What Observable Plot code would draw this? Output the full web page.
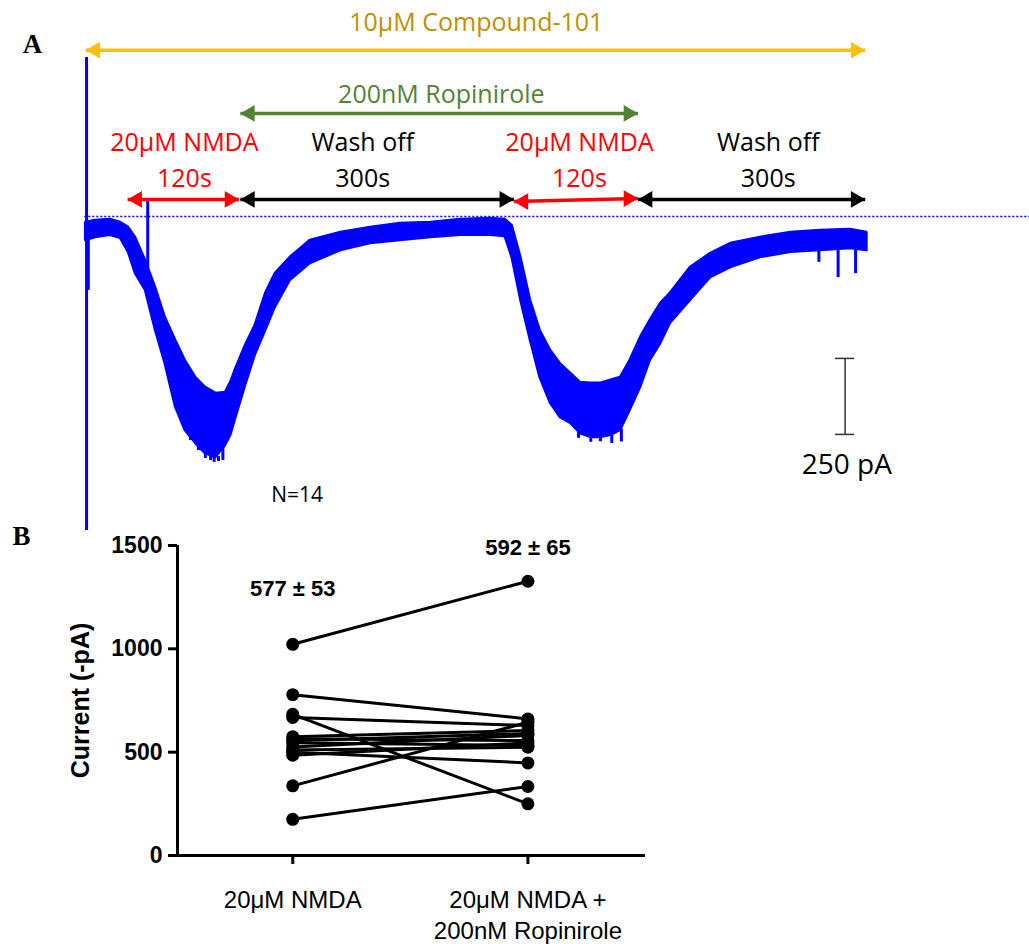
<!DOCTYPE html>
<html><head><meta charset="utf-8">
<script src="https://cdn.jsdelivr.net/npm/d3@7"></script>
<script src="https://cdn.jsdelivr.net/npm/@observablehq/plot@0.6"></script>
<style>
body{margin:0;background:#fff;}
#wrap{position:relative;width:1029px;height:944px;overflow:hidden;}
#wrap svg{position:absolute;left:0;}
</style></head><body><div id="wrap"></div>
<script>
// ---------- Panel A: whole-cell current trace (time in s from first NMDA onset, current in pA) ----------
const traceT  = [-49,-38,-21,-9,0,8,19.5,31,42,54,65,77,88,100,111,117,122,134,145,157,168,185,208,243,277,311,346,380,414,431,439,449,460,471,483,494,506,517,529,540,552,563,574,586,597,609,620,643,666,689,723,758,792,826,845];
const traceHi = [-20,-13,-10,-20,-36,-69,-145,-234,-332,-408,-474,-530,-562,-582,-579,-546,-507,-424,-359,-253,-188,-135,-79,-53,-36,-23,-20,-10,-7,-10,-30,-135,-276,-375,-441,-484,-516,-546,-549,-549,-539,-530,-474,-398,-342,-286,-253,-168,-122,-89,-69,-53,-46,-43,-53];
const traceLo = [-79,-69,-62,-72,-118,-188,-243,-375,-484,-628,-704,-747,-780,-793,-753,-720,-671,-556,-457,-375,-299,-211,-155,-112,-89,-79,-69,-62,-62,-66,-135,-276,-408,-530,-615,-661,-681,-714,-727,-727,-720,-704,-638,-562,-474,-418,-352,-276,-201,-168,-135,-118,-112,-105,-112];
// transients / noise spikes
const spikeT  = [-48,-46,22,71,80,88,94,98,103,108,515,529,540,553,564,790,812,832];
const spikeHi = [523,-20,53,-700,-740,-770,-780,-790,-790,-750,-700,-720,-720,-715,-700,-60,-60,-60];
const spikeLo = [-1033,-243,-188,-737,-770,-796,-803,-809,-806,-803,-730,-743,-741,-747,-742,-151,-201,-188];

// application bars (start/end in s)
const barStart = [-49, 128, -1, 128, 441, 583];
const barEnd   = [843, 583, 126.5, 441, 583, 843];
const barColor = ["#FFC000", "#548235", "#FF0000", "#000000", "#FF0000", "#000000"];
// bar labels
const barText  = ["10μM Compound-101", "200nM Ropinirole", "20μM NMDA", "120s", "Wash off", "300s", "20μM NMDA", "120s", "Wash off", "300s"];
const barTextT = [398, 358, 64, 64, 268, 268, 516, 516, 732, 732];
const barTextColor = ["#BF9000", "#548235", "#FF0000", "#FF0000", "#000000", "#000000", "#FF0000", "#FF0000", "#000000", "#000000"];
const scaleBarPA = 250;
const nCells = "N=14";

// ---------- Panel B: paired peak currents ----------
const conditions = ["20μM NMDA", "20μM NMDA +\n200nM Ropinirole"];
const nmda    = [1022, 778, 683, 668, 575, 565, 555, 545, 525, 510, 500, 485, 337, 175];
const nmdaRop = [1327, 661, 250, 629, 605, 556, 590, 532, 581, 524, 448, 545, 645, 334];
const meanLabels = ["577 ± 53", "592 ± 65"];
const yTicks = [0, 500, 1000, 1500];

// ---------- build tables ----------
const trace = traceT.map((t, i) => ({t, hi: traceHi[i], lo: traceLo[i]}));
const spikes = spikeT.map((t, i) => ({t, hi: spikeHi[i], lo: spikeLo[i]}));
// vertical placement of annotation rows (pA units on the trace axis)
const levelCompound = 547, levelRop = 339, levelPhase = 56;
const barLevel = [levelCompound, levelRop, levelPhase, levelPhase, levelPhase - 7, levelPhase];
const barLevelEnd = [levelCompound, levelRop, levelPhase, levelPhase, levelPhase + 3, levelPhase];
const bars = barStart.map((s, i) => ({x1: s, x2: barEnd[i], y1: barLevel[i], y2: barLevelEnd[i], c: barColor[i]}));
const textLevel = [638, 398, 243, 122, 243, 122, 243, 122, 243, 122];
const labelsA = barText.map((s, i) => ({text: s, t: barTextT[i], y: textLevel[i], c: barTextColor[i]}));
const sbT = 820, sbTop = -467;

const fontA = "'Open Sans', sans-serif";
const serif = "'Liberation Serif', 'Times New Roman', serif";
const wrap = document.getElementById("wrap");

const plotA = Plot.plot({
  width: 1029, height: 540,
  marginLeft: 84.3, marginRight: 0, marginTop: 0, marginBottom: 0,
  x: {domain: [-50, 1031], axis: null},
  y: {domain: [-1066, 710.5], axis: null},
  color: {type: "identity"},
  style: {background: "transparent", overflow: "visible", fontFamily: fontA},
  marks: [
    Plot.ruleY([0], {stroke: "#0000FF", strokeWidth: 1.5, strokeDasharray: "2,2"}),
    Plot.areaY(trace, {x: "t", y1: "lo", y2: "hi", fill: "#0000FF", stroke: "#0000FF", strokeWidth: 2.5}),
    Plot.ruleX(spikes, {x: "t", y1: "lo", y2: "hi", stroke: "#0000FF", strokeWidth: 3}),
    Plot.link(bars, {x1: "x1", x2: "x2", y1: "y1", y2: "y2", stroke: "c", strokeWidth: 3.5}),
    Plot.dot(bars, {x: "x1", y: "y1", fill: "c", symbol: "triangle", r: 6.2, rotate: -90, dx: 9.5}),
    Plot.dot(bars, {x: "x2", y: "y2", fill: "c", symbol: "triangle", r: 6.2, rotate: 90, dx: -9.5}),
    Plot.text(labelsA, {x: "t", y: "y", text: "text", fill: "c", fontSize: 25, fontFamily: fontA}),
    // scale bar
    Plot.ruleX([sbT], {y1: sbTop, y2: sbTop - scaleBarPA, stroke: "#333", strokeWidth: 1.5}),
    Plot.ruleY([sbTop, sbTop - scaleBarPA], {x1: sbT - 11, x2: sbT + 11, stroke: "#333", strokeWidth: 1.5}),
    Plot.text([`${scaleBarPA} pA`], {x: sbT + 2, y: sbTop - scaleBarPA - 102, fontSize: 28, fill: "#000", fontFamily: fontA}),
    Plot.text([nCells], {x: 193, y: -918, fontSize: 21, fill: "#000", fontFamily: fontA}),
    Plot.text(["A"], {frameAnchor: "top-left", dx: -62, dy: 33, fontSize: 27, fontWeight: "bold", fontFamily: serif, fill: "#000"})
  ]
});
plotA.style.top = "0px";
wrap.appendChild(plotA);

// ---------- Panel B ----------
const rows = [];
nmda.forEach((v, i) => { rows.push({id: i, pos: 0, v}); rows.push({id: i, pos: 1, v: nmdaRop[i]}); });
const xDomain = [-0.49, 1.5];
const fontB = "'Liberation Sans', Arial, sans-serif";
const plotB = Plot.plot({
  width: 1029, height: 444,
  marginLeft: 177, marginRight: 384, marginTop: 45, marginBottom: 89,
  x: {domain: xDomain, axis: null},
  y: {domain: [0, 1500], axis: null},
  style: {background: "transparent", overflow: "visible", fontFamily: fontB},
  marks: [
    Plot.ruleX([xDomain[0]], {y1: 0, y2: 1500, stroke: "#000", strokeWidth: 3}),
    Plot.ruleY([0], {stroke: "#000", strokeWidth: 3}),
    Plot.axisY({ticks: yTicks, tickFormat: d => String(d), tickSize: 9, tickPadding: 6, strokeWidth: 3, fontSize: 23, fontWeight: "bold", label: null, fill: "#000"}),
    Plot.axisX({ticks: [0, 1], tickSize: 9, strokeWidth: 3, tickFormat: () => "", label: null}),
    Plot.text([0, 1], {x: d => d, y: 0, text: d => conditions[d], dy: 30, lineAnchor: "top", lineHeight: 1.3, fontSize: 24, fill: "#000", textAnchor: "middle"}),
    Plot.text(["Current (-pA)"], {frameAnchor: "left", dx: -97, rotate: -90, textAnchor: "middle", fontSize: 25, fontWeight: "bold", fill: "#000"}),
    Plot.line(rows, {x: "pos", y: "v", z: "id", stroke: "#000", strokeWidth: 3}),
    Plot.dot(rows, {x: "pos", y: "v", r: 6.5, fill: "#000"}),
    Plot.text([0, 1], {x: d => d, y: d => [1292, 1490][d], text: d => meanLabels[d], fontSize: 22, fontWeight: "bold", fill: "#000"}),
    Plot.text(["B"], {frameAnchor: "top-left", dx: -165, dy: -20, fontSize: 27, fontWeight: "bold", fontFamily: serif, fill: "#000"})
  ]
});
plotB.style.top = "500px";
wrap.appendChild(plotB);
</script></body></html>
